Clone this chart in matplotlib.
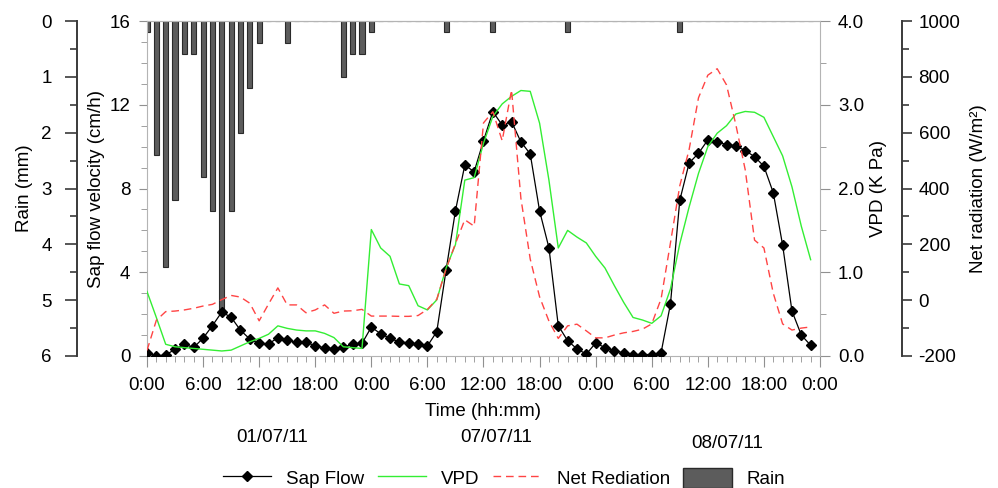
import matplotlib
matplotlib.use("Agg")
import matplotlib.pyplot as plt
from matplotlib.lines import Line2D
from matplotlib.patches import Patch
from matplotlib.ticker import MultipleLocator, FixedLocator, FixedFormatter, FormatStrFormatter

plt.rcParams['font.family'] = ['Liberation Sans', 'DejaVu Sans']
plt.rcParams['axes.unicode_minus'] = False

# ---------------- data (hourly, 3 days) ----------------
hours = list(range(72))

sap_flow = [0.16, 0.00, 0.05, 0.32, 0.56, 0.41, 0.85, 1.45, 2.10, 1.85, 1.23, 0.81,
            0.60, 0.58, 0.87, 0.75, 0.65, 0.68, 0.47, 0.40, 0.34, 0.43, 0.56, 0.60,
            1.38, 1.06, 0.84, 0.67, 0.63, 0.55, 0.48, 1.16, 4.11, 6.94, 9.12, 8.80,
            10.28, 11.67, 11.03, 11.19, 10.23, 9.65, 6.93, 5.17, 1.45, 0.73, 0.34, 0.09,
            0.62, 0.40, 0.25, 0.15, 0.07, 0.07, 0.07, 0.16, 2.48, 7.44, 9.22, 9.68,
            10.32, 10.23, 10.10, 10.03, 9.81, 9.52, 9.06, 7.80, 5.30, 2.15, 1.00, 0.51]

vpd = [0.77, 0.46, 0.14, 0.11, 0.10, 0.09, 0.08, 0.07, 0.06, 0.07, 0.12, 0.17,
       0.21, 0.26, 0.36, 0.33, 0.31, 0.30, 0.30, 0.27, 0.22, 0.11, 0.10, 0.09,
       1.51, 1.29, 1.19, 0.86, 0.84, 0.60, 0.55, 0.67, 1.05, 1.33, 2.10, 2.13,
       2.54, 2.86, 3.01, 3.10, 3.17, 3.16, 2.78, 2.10, 1.29, 1.50, 1.42, 1.35,
       1.19, 1.05, 0.84, 0.64, 0.46, 0.43, 0.39, 0.48, 0.80, 1.34, 1.78, 2.18,
       2.50, 2.66, 2.75, 2.89, 2.92, 2.91, 2.85, 2.62, 2.39, 2.02, 1.55, 1.15]

net_radiation = [-180, -72, -41, -39, -35, -29, -21, -15, 2, 17, 11, -11,
                 -74, -14, 44, -17, -17, -45, -35, -17, -47, -39, -38, -33,
                 -57, -57, -57, -58, -58, -55, -33, 3, 112, 203, 288, 265,
                 635, 675, 571, 753, 365, 147, 12, -75, -137, -92, -86, -110,
                 -135, -135, -125, -117, -112, -104, -85, 5, 205, 410, 540, 725,
                 806, 829, 771, 628, 467, 215, 187, 25, -85, -107, -100, -96]

rain = [0.2, 2.4, 4.4, 3.2, 0.6, 0.6, 2.8, 3.4, 5.2, 3.4, 2.0, 1.2,
        0.4, 0.0, 0.0, 0.4, 0.0, 0.0, 0.0, 0.0, 0.0, 1.0, 0.6, 0.6,
        0.2, 0.0, 0.0, 0.0, 0.0, 0.0, 0.0, 0.0, 0.2, 0.0, 0.0, 0.0,
        0.0, 0.2, 0.0, 0.0, 0.0, 0.0, 0.0, 0.0, 0.0, 0.2, 0.0, 0.0,
        0.0, 0.0, 0.0, 0.0, 0.0, 0.0, 0.0, 0.0, 0.0, 0.2, 0.0, 0.0,
        0.0, 0.0, 0.0, 0.0, 0.0, 0.0, 0.0, 0.0, 0.0, 0.0, 0.0, 0.0]

x_tick_pos = [0, 6, 12, 18, 24, 30, 36, 42, 48, 54, 60, 66, 72]
x_tick_labels = ["0:00", "6:00", "12:00", "18:00", "0:00", "6:00", "12:00", "18:00",
                 "0:00", "6:00", "12:00", "18:00", "0:00"]
dates = ["01/07/11", "07/07/11", "08/07/11"]

# ---------------- figure ----------------
FS = 13.5
GREY = "#b4b4b4"
DARK = "#3a3a3a"
fig = plt.figure(figsize=(9.98, 4.88), dpi=100)
pos = [147 / 998, 1 - 356 / 488, (820 - 147) / 998, (356 - 21) / 488]

ax_rain = fig.add_axes(pos)
ax_sap = ax_rain.twinx()
ax_vpd = ax_rain.twinx()
ax_nr = ax_rain.twinx()

# Rain (host axis, bars hanging from top)
ax_rain.bar(hours, rain, width=0.55, color="#5c5c5c", edgecolor="#2a2a2a", linewidth=0.8, zorder=2)
ax_rain.set_ylim(6, 0)
ax_rain.set_xlim(0, 72)
ax_rain.spines['left'].set_position(('outward', 50.4))
ax_rain.spines['left'].set_color(DARK)
ax_rain.spines['left'].set_linewidth(1.4)
ax_rain.spines['right'].set_visible(False)
ax_rain.spines['bottom'].set_color(GREY)
ax_rain.spines['top'].set_color(GREY)
ax_rain.yaxis.set_major_locator(MultipleLocator(1))
ax_rain.yaxis.set_minor_locator(MultipleLocator(0.5))
ax_rain.tick_params(axis='y', which='major', length=9, width=1.2, color=DARK, labelsize=FS, pad=9)
ax_rain.tick_params(axis='y', which='minor', length=5, width=1.2, color=DARK)
ax_rain.set_ylabel("Rain (mm)", fontsize=FS)
ax_rain.yaxis.set_label_coords(-0.169, 0.5)

ax_rain.xaxis.set_major_locator(FixedLocator(x_tick_pos))
ax_rain.xaxis.set_major_formatter(FixedFormatter(x_tick_labels))
ax_rain.xaxis.set_minor_locator(MultipleLocator(1))
ax_rain.tick_params(axis='x', which='major', direction='out', length=8, color="#909090", labelsize=FS, pad=7)
ax_rain.tick_params(axis='x', which='minor', direction='out', length=4, color="#909090")
ax_rain.set_xlabel("Time (hh:mm)", fontsize=FS)
ax_rain.xaxis.set_label_coords(0.5, -0.14)

# Sap flow (left inner axis)
ax_sap.plot(hours, sap_flow, color="black", lw=0.9, marker='D', ms=5.6, zorder=3)
ax_sap.set_ylim(0, 16)
ax_sap.yaxis.tick_left()
ax_sap.yaxis.set_label_position('left')
for s in ['right', 'bottom']:
    ax_sap.spines[s].set_visible(False)
ax_sap.spines['left'].set_visible(True)
ax_sap.spines['left'].set_color(GREY)
ax_sap.spines['top'].set_color(GREY)
ax_sap.yaxis.set_major_locator(MultipleLocator(4))
ax_sap.yaxis.set_minor_locator(MultipleLocator(1))
ax_sap.tick_params(axis='y', which='major', length=6, color="#909090", labelsize=FS, pad=6)
ax_sap.tick_params(axis='y', which='minor', length=4, color="#909090")
ax_sap.set_ylabel("Sap flow velocity (cm/h)", fontsize=FS)
ax_sap.yaxis.set_label_coords(-0.0624, 0.5)
ax_sap.xaxis.set_ticks_position('top')
ax_sap.xaxis.set_major_locator(FixedLocator(x_tick_pos))
ax_sap.xaxis.set_minor_locator(MultipleLocator(1))
ax_sap.tick_params(axis='x', which='major', direction='in', length=7, color="#808080",
                   top=True, bottom=False, labeltop=False, labelbottom=False)
ax_sap.tick_params(axis='x', which='minor', direction='in', length=3, color="#808080",
                   top=True, bottom=False)

# VPD (right inner axis)
ax_vpd.plot(hours, vpd, color="#33ee33", lw=1.0, zorder=4)
ax_vpd.set_ylim(0, 4)
for s in ['left', 'top', 'bottom']:
    ax_vpd.spines[s].set_visible(False)
ax_vpd.spines['right'].set_color(GREY)
ax_vpd.yaxis.set_major_locator(MultipleLocator(1))
ax_vpd.yaxis.set_minor_locator(MultipleLocator(0.5))
ax_vpd.yaxis.set_major_formatter(FormatStrFormatter('%.1f'))
ax_vpd.tick_params(axis='y', which='major', length=7, color="#909090", labelsize=FS, pad=6)
ax_vpd.tick_params(axis='y', which='minor', length=4, color="#909090")
ax_vpd.set_ylabel("VPD (K Pa)", fontsize=FS)
ax_vpd.yaxis.set_label_coords(1.074, 0.5)

# Net radiation (outer right axis)
ax_nr.plot(hours, net_radiation, color="#ff4444", lw=1.0, dashes=(5.5, 3.5), zorder=5)
ax_nr.set_ylim(-200, 1000)
for s in ['left', 'top', 'bottom']:
    ax_nr.spines[s].set_visible(False)
ax_nr.spines['right'].set_position(('outward', 59))
ax_nr.spines['right'].set_color(DARK)
ax_nr.spines['right'].set_linewidth(1.4)
ax_nr.yaxis.set_major_locator(MultipleLocator(200))
ax_nr.yaxis.set_minor_locator(MultipleLocator(100))
ax_nr.tick_params(axis='y', which='major', length=7, width=1.2, color=DARK, labelsize=FS, pad=5)
ax_nr.tick_params(axis='y', which='minor', length=5, width=1.2, color=DARK)
ax_nr.set_ylabel("Net radiation (W/m²)", fontsize=FS)
ax_nr.yaxis.set_label_coords(1.223, 0.5)

# Date labels
fig.text(272 / 998, 1 - 438 / 488, dates[0], ha='center', va='center', fontsize=FS)
fig.text(496 / 998, 1 - 438 / 488, dates[1], ha='center', va='center', fontsize=FS)
fig.text(727 / 998, 1 - 443 / 488, dates[2], ha='center', va='center', fontsize=FS)

# Legend
handles = [Line2D([], [], color="black", lw=0.9, marker='D', ms=5.6),
           Line2D([], [], color="#33ee33", lw=1.0),
           Line2D([], [], color="#ff4444", lw=1.0, dashes=(5.5, 3.5)),
           Patch(facecolor="#5c5c5c", edgecolor="#2a2a2a")]
labels = ["Sap Flow", "VPD", "Net Rediation", "Rain"]
fig.legend(handles, labels, loc='center', bbox_to_anchor=(0.505, 0.02), ncol=4,
           frameon=False, fontsize=FS, handlelength=2.6, handleheight=1.3,
           handletextpad=0.8, columnspacing=0.7)

fig.savefig("out.png", dpi=100)
